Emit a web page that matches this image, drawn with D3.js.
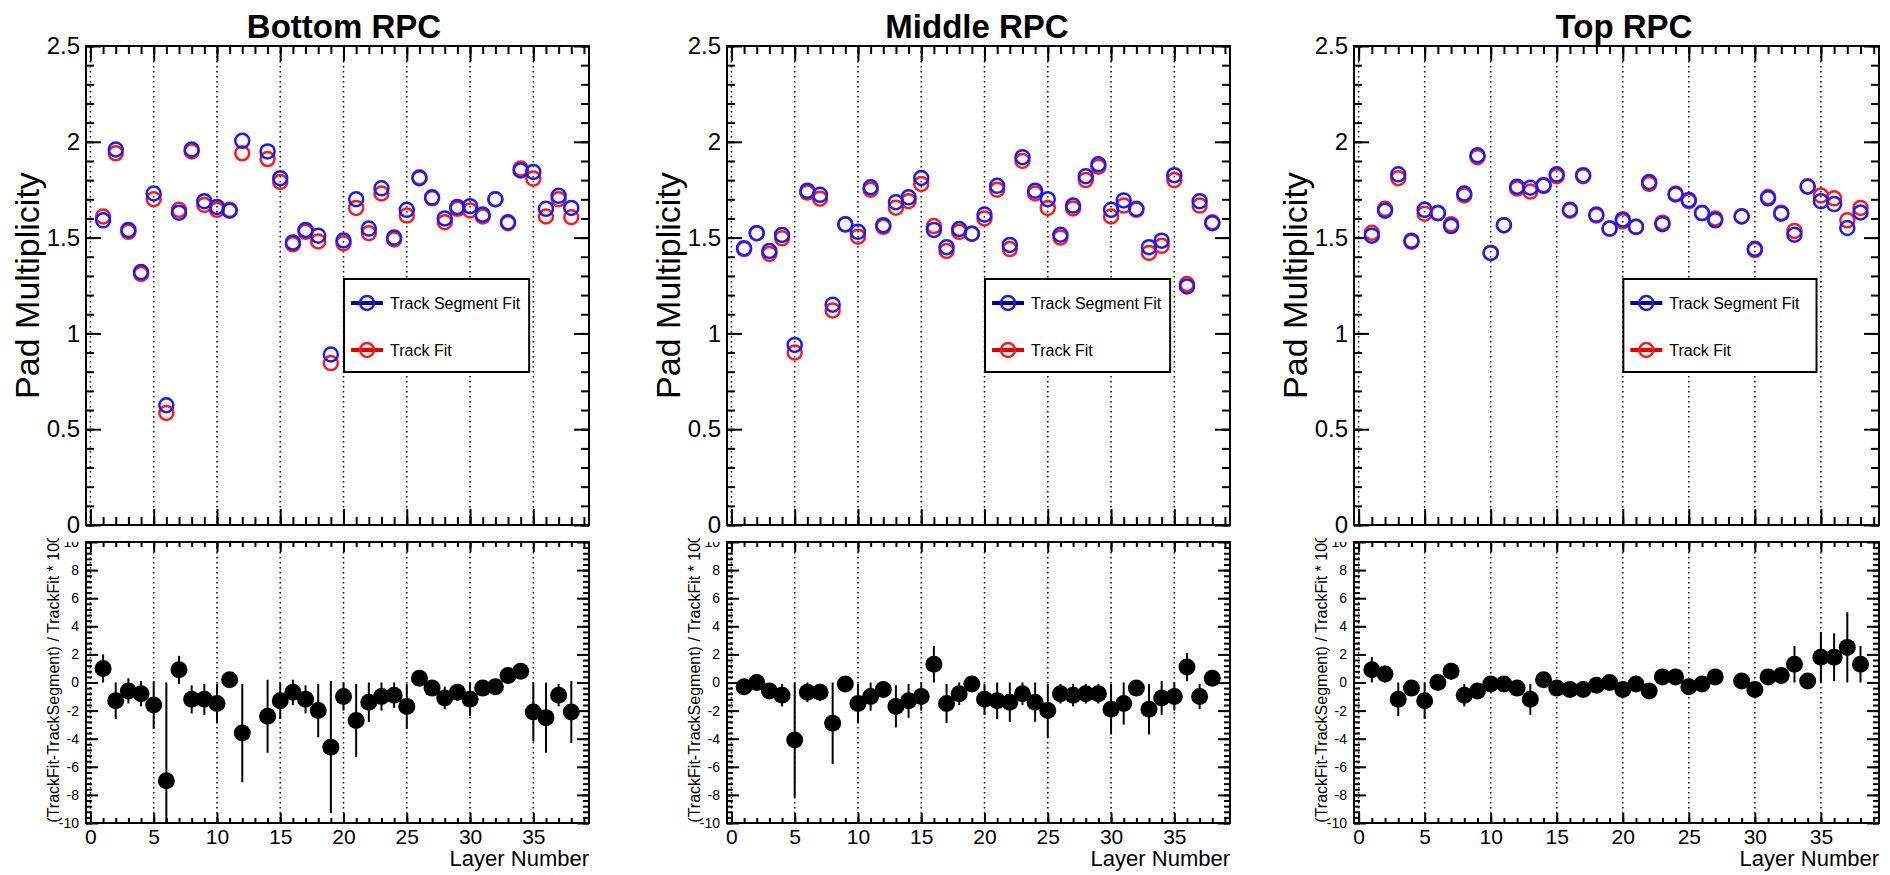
<!doctype html>
<html lang="en">
  <head>
    <meta charset="utf-8">
    <title>RPC Pad Multiplicity</title>
    <style type="text/css">
      body { margin: 0; background-color: #ffffff; }
      svg text { font-family: "Liberation Sans", Arial, Helvetica, sans-serif; fill: #000; }
    </style>
  </head>
  <body>
    <script src="https://d3js.org/d3.v7.min.js"></script>
    <script>

    // layer numbers on the x axis
    var layers = [1, 2, 3, 4, 5, 6, 7, 8, 9, 10, 11, 12, 13, 14, 15, 16, 17, 18, 19,
                  20, 21, 22, 23, 24, 25, 26, 27, 28, 29, 30, 31, 32, 33, 34, 35, 36, 37, 38];

    var xTicks = [0, 5, 10, 15, 20, 25, 30, 35];
    var multTicks = [0, 0.5, 1, 1.5, 2, 2.5];
    var multTickLabels = ["0", "0.5", "1", "1.5", "2", "2.5"];
    var ratioTicks = [-10, -8, -6, -4, -2, 0, 2, 4, 6, 8, 10];
    var ratioTickLabels = ["-10", "-8", "-6", "-4", "-2", "0", "2", "4", "6", "8", "10"];

    var panelTitles = ["Bottom RPC", "Middle RPC", "Top RPC"];
    var legendLabels = ["Track Segment Fit", "Track Fit"];
    var multTitle = "Pad Multiplicity";
    var ratioTitle = "(TrackFit-TrackSegment) / TrackFit * 100";
    var xTitle = "Layer Number";

    // Bottom RPC
    var bottomSegFit = [1.59, 1.96, 1.54, 1.32, 1.73, 0.625, 1.63, 1.96, 1.69, 1.66, 1.64, 2.005, null, 1.95, 1.81, 1.475, 1.54, 1.51, 0.89,
                        1.485, 1.70, 1.547, 1.757, 1.50, 1.645, 1.81, 1.71, 1.60, 1.66, 1.664, 1.62, 1.70, 1.58, 1.85, 1.843, 1.65, 1.718, 1.655];
    var bottomTrackFit = [1.61, 1.94, 1.53, 1.31, 1.70, 0.585, 1.645, 1.95, 1.67, 1.645, 1.645, 1.94, null, 1.91, 1.79, 1.465, 1.53, 1.48, 0.845,
                          1.47, 1.655, 1.523, 1.73, 1.49, 1.615, 1.815, 1.705, 1.58, 1.65, 1.642, 1.61, 1.70, 1.575, 1.86, 1.808, 1.61, 1.70, 1.606];
    var bottomRatio = [1.0, -1.3, -0.6, -0.8, -1.6, -7.0, 0.9, -1.2, -1.2, -1.5, 0.2, -3.6, null, -2.4, -1.3, -0.7, -1.2, -2.0, -4.6,
                       -1.0, -2.7, -1.4, -1.0, -0.9, -1.7, 0.3, -0.4, -1.1, -0.7, -1.2, -0.4, -0.3, 0.5, 0.8, -2.1, -2.5, -0.9, -2.1];
    var bottomRatioErr = [1.0, 1.3, 0.9, 0.9, 1.7, 7.0, 1.0, 1.0, 1.1, 1.4, 0.3, 3.5, null, 2.6, 1.3, 0.9, 1.0, 1.9, 4.7,
                          1.0, 2.6, 1.4, 1.0, 0.9, 1.6, 0.3, 0.5, 0.8, 0.6, 1.2, 0.4, 0.4, 0.4, 0.5, 2.1, 2.5, 0.8, 2.2];

    // Middle RPC
    var middleSegFit = [1.445, 1.523, 1.43, 1.514, 0.94, 1.745, 1.723, 1.15, 1.57, 1.53, 1.763, 1.565, 1.685, 1.71, 1.811, 1.54, 1.45, 1.545, 1.52,
                        1.62, 1.77, 1.462, 1.92, 1.745, 1.70, 1.515, 1.667, 1.82, 1.883, 1.645, 1.694, 1.65, 1.45, 1.484, 1.826, 1.245, 1.69, 1.575];
    var middleTrackFit = [1.44, 1.523, 1.415, 1.496, 0.90, 1.735, 1.703, 1.12, 1.568, 1.505, 1.75, 1.556, 1.656, 1.69, 1.78, 1.56, 1.43, 1.53, 1.52,
                          1.60, 1.75, 1.44, 1.90, 1.73, 1.655, 1.50, 1.652, 1.80, 1.87, 1.61, 1.667, 1.645, 1.42, 1.457, 1.80, 1.258, 1.667, 1.58];
    var middleRatio = [-0.3, 0.0, -0.6, -0.9, -4.1, -0.7, -0.7, -2.9, -0.1, -1.5, -1.0, -0.5, -1.7, -1.3, -1.0, 1.3, -1.5, -0.8, -0.1,
                       -1.2, -1.3, -1.4, -0.8, -1.4, -2.0, -0.8, -0.9, -0.8, -0.8, -1.9, -1.5, -0.4, -1.9, -1.1, -1.0, 1.1, -1.0, 0.3];
    var middleRatioErr = [0.4, 0.3, 0.5, 0.8, 4.1, 0.7, 0.6, 2.9, 0.3, 1.4, 1.0, 0.5, 1.5, 1.2, 1.0, 1.3, 1.4, 0.8, 0.3,
                          1.1, 1.3, 1.4, 0.8, 1.4, 1.9, 0.7, 0.8, 0.7, 0.7, 1.8, 1.5, 0.3, 1.8, 1.2, 1.0, 1.0, 0.9, 0.3];

    // Top RPC
    var topSegFit = [1.51, 1.64, 1.83, 1.484, 1.645, 1.628, 1.56, 1.73, 1.93, 1.42, 1.565, 1.766, 1.76, 1.77, 1.83, 1.646, 1.826, 1.62, 1.547,
                     1.595, 1.556, 1.79, 1.57, 1.725, 1.696, 1.628, 1.59, null, 1.61, 1.442, 1.705, 1.625, 1.515, 1.766, 1.69, 1.675, 1.55, 1.631];
    var topTrackFit = [1.525, 1.65, 1.81, 1.478, 1.625, 1.628, 1.57, 1.72, 1.92, 1.42, 1.565, 1.756, 1.74, 1.775, 1.82, 1.64, 1.82, 1.615, 1.547,
                       1.585, 1.556, 1.78, 1.578, 1.73, 1.69, 1.628, 1.60, null, 1.612, 1.435, 1.712, 1.63, 1.535, 1.768, 1.72, 1.705, 1.59, 1.655];
    var topRatio = [0.9, 0.6, -1.2, -0.4, -1.3, 0.0, 0.8, -0.9, -0.6, -0.1, -0.1, -0.4, -1.2, 0.2, -0.4, -0.5, -0.5, -0.2, 0.0,
                    -0.5, -0.1, -0.6, 0.4, 0.4, -0.3, -0.1, 0.4, null, 0.1, -0.5, 0.4, 0.5, 1.3, 0.1, 1.8, 1.8, 2.5, 1.3];
    var topRatioErr = [0.9, 0.6, 1.2, 0.4, 1.3, 0.3, 0.6, 0.8, 0.5, 0.3, 0.3, 0.4, 1.1, 0.3, 0.3, 0.3, 0.3, 0.3, 0.3,
                       0.3, 0.3, 0.4, 0.3, 0.3, 0.3, 0.3, 0.3, null, 0.3, 0.4, 0.3, 0.4, 1.3, 0.3, 1.8, 1.7, 2.5, 1.3];

    //Width and height
    var w = 1890;
    var h = 875;

    var segColor = "#1a1aff", fitColor = "#ff1a1a";
    var segLine = "#000090", fitLine = "#e00000";

    // frame geometry per pad
    var pads = [
      {pad: 0,    x0: 86,   x1: 589,  tx: 344,  seg: bottomSegFit, fit: bottomTrackFit, r: bottomRatio, e: bottomRatioErr},
      {pad: 630,  x0: 727,  x1: 1230, tx: 977,  seg: middleSegFit, fit: middleTrackFit, r: middleRatio, e: middleRatioErr},
      {pad: 1260, x0: 1354, x1: 1879, tx: 1624, seg: topSegFit,    fit: topTrackFit,    r: topRatio,    e: topRatioErr}
    ];
    var topY0 = 46, topY1 = 525, botY0 = 542, botY1 = 823;

    var svg = d3.select("body")
      .append("svg")
      .attr("width", w)
      .attr("height", h);

    var defs = svg.append("defs");

    function styleAxis(g, size) {
      g.select(".domain").remove();
      g.selectAll(".tick line").attr("stroke", "#000").attr("stroke-width", 2);
      g.selectAll(".tick text").attr("font-size", size || 0).attr("fill", "#000")
        .attr("font-family", "'Liberation Sans', Arial, Helvetica, sans-serif");
    }

    function ticks(g, axisFn, scale, values, len, labels, size, pad) {
      var ax = axisFn(scale).tickValues(values).tickSize(-len).tickPadding(pad || 4);
      if (labels) ax.tickFormat(function(d, i) { return labels[i]; });
      else ax.tickFormat("");
      g.call(ax);
      styleAxis(g, size);
    }

    pads.forEach(function(p, i) {
      var x = d3.scaleLinear().domain([-0.35, 39.4]).range([p.x0, p.x1]);
      var yTop = d3.scaleLinear().domain([0, 2.5]).range([topY1, topY0]);
      var yBot = d3.scaleLinear().domain([-10, 10]).range([botY1, botY0]);

      var minorX = d3.range(0, 40, 1);
      var minorTop = d3.range(0, 2.501, 0.1);
      var minorBot = d3.range(-10, 10.01, 0.4);

      defs.append("clipPath").attr("id", "botpad" + i)
        .append("rect").attr("x", p.pad).attr("y", 538).attr("width", 630).attr("height", h - 538);
      defs.append("clipPath").attr("id", "botlab" + i)
        .append("rect").attr("x", p.pad).attr("y", 542).attr("width", 630).attr("height", h - 542);
      defs.append("clipPath").attr("id", "botframe" + i)
        .append("rect").attr("x", p.x0).attr("y", botY0).attr("width", p.x1 - p.x0).attr("height", botY1 - botY0);

      var g = svg.append("g");

      // dotted grid at major x ticks
      [[topY0, topY1], [botY0, botY1]].forEach(function(r) {
        g.append("g").selectAll("line")
          .data(xTicks)
          .enter()
          .append("line")
          .attr("x1", function(d) { return x(d); })
          .attr("x2", function(d) { return x(d); })
          .attr("y1", r[0])
          .attr("y2", r[1])
          .attr("stroke", "#000")
          .attr("stroke-width", 1.5)
          .attr("stroke-dasharray", "1.5,3.5");
      });

      // ---- upper pad: ticks
      ticks(g.append("g").attr("transform", "translate(0," + topY1 + ")"), d3.axisBottom, x, minorX, 8);
      ticks(g.append("g").attr("transform", "translate(0," + topY1 + ")"), d3.axisBottom, x, xTicks, 16);
      ticks(g.append("g").attr("transform", "translate(0," + topY0 + ")"), d3.axisTop, x, minorX, 8);
      ticks(g.append("g").attr("transform", "translate(0," + topY0 + ")"), d3.axisTop, x, xTicks, 15);
      ticks(g.append("g").attr("transform", "translate(" + p.x0 + ",0)"), d3.axisLeft, yTop, minorTop, 8);
      ticks(g.append("g").attr("transform", "translate(" + p.x0 + ",0)"), d3.axisLeft, yTop, multTicks, 15, multTickLabels, 24, 6);
      ticks(g.append("g").attr("transform", "translate(" + p.x1 + ",0)"), d3.axisRight, yTop, minorTop, 8);
      ticks(g.append("g").attr("transform", "translate(" + p.x1 + ",0)"), d3.axisRight, yTop, multTicks, 15);

      // ---- lower pad: ticks
      ticks(g.append("g").attr("transform", "translate(0," + botY1 + ")"), d3.axisBottom, x, minorX, 5);
      ticks(g.append("g").attr("transform", "translate(0," + botY1 + ")"), d3.axisBottom, x, xTicks, 10, xTicks.map(String), 21, 6);
      ticks(g.append("g").attr("transform", "translate(0," + botY0 + ")"), d3.axisTop, x, minorX, 5);
      ticks(g.append("g").attr("transform", "translate(0," + botY0 + ")"), d3.axisTop, x, xTicks, 10);
      ticks(g.append("g").attr("transform", "translate(" + p.x0 + ",0)"), d3.axisLeft, yBot, minorBot, 6);
      // labels clipped at the pad edge (the top "10" is cut like in the original)
      ticks(g.append("g").attr("clip-path", "url(#botlab" + i + ")")
              .append("g").attr("transform", "translate(" + p.x0 + ",0)"),
            d3.axisLeft, yBot, ratioTicks, 12, ratioTickLabels, 14, 7);
      ticks(g.append("g").attr("transform", "translate(" + p.x1 + ",0)"), d3.axisRight, yBot, minorBot, 6);
      ticks(g.append("g").attr("transform", "translate(" + p.x1 + ",0)"), d3.axisRight, yBot, ratioTicks, 12);

      // frames
      g.append("rect").attr("x", p.x0).attr("y", topY0).attr("width", p.x1 - p.x0).attr("height", topY1 - topY0)
        .attr("fill", "none").attr("stroke", "#000").attr("stroke-width", 2);
      g.append("rect").attr("x", p.x0).attr("y", botY0).attr("width", p.x1 - p.x0).attr("height", botY1 - botY0)
        .attr("fill", "none").attr("stroke", "#000").attr("stroke-width", 2);

      // ---- upper pad: open circles (track fit underneath, segment fit on top)
      [[p.fit, fitColor], [p.seg, segColor]].forEach(function(s) {
        g.append("g").selectAll("circle")
          .data(layers.filter(function(l, k) { return s[0][k] != null; }))
          .enter()
          .append("circle")
          .attr("cx", function(d) { return x(d); })
          .attr("cy", function(d) { return yTop(s[0][d - 1]); })
          .attr("r", 7)
          .attr("fill", "none")
          .attr("stroke", s[1])
          .attr("stroke-width", 2.5);
      });

      // ---- lower pad: ratio with error bars
      var ratioPts = layers.filter(function(l, k) { return p.r[k] != null; });
      var gr = g.append("g").attr("clip-path", "url(#botframe" + i + ")");
      gr.selectAll("line")
        .data(ratioPts)
        .enter()
        .append("line")
        .attr("x1", function(d) { return x(d); })
        .attr("x2", function(d) { return x(d); })
        .attr("y1", function(d) { return yBot(p.r[d - 1] + p.e[d - 1]); })
        .attr("y2", function(d) { return yBot(p.r[d - 1] - p.e[d - 1]); })
        .attr("stroke", "#000")
        .attr("stroke-width", 2);
      gr.selectAll("circle")
        .data(ratioPts)
        .enter()
        .append("circle")
        .attr("cx", function(d) { return x(d); })
        .attr("cy", function(d) { return yBot(p.r[d - 1]); })
        .attr("r", 8.5)
        .attr("fill", "#000");

      // ---- legend
      var W = p.x1 - p.x0;
      var lx0 = p.x0 + 0.513 * W, lx1 = p.x0 + 0.881 * W;
      var leg = g.append("g");
      leg.append("rect").attr("x", lx0).attr("y", 279).attr("width", lx1 - lx0).attr("height", 93)
        .attr("fill", "#fff").attr("stroke", "#000").attr("stroke-width", 2);
      [[303, segLine, segColor], [350, fitLine, fitColor]].forEach(function(row, k) {
        leg.append("line").attr("x1", lx0 + 7).attr("x2", lx0 + 39).attr("y1", row[0]).attr("y2", row[0])
          .attr("stroke", row[1]).attr("stroke-width", 4);
        leg.append("circle").attr("cx", lx0 + 23).attr("cy", row[0]).attr("r", 7)
          .attr("fill", "none").attr("stroke", row[2]).attr("stroke-width", 2.5);
        leg.append("text").attr("x", lx0 + 46).attr("y", row[0] + 6)
          .attr("font-size", 16).text(legendLabels[k]);
      });

      // ---- titles
      g.append("text").attr("x", p.tx).attr("y", 38).attr("text-anchor", "middle")
        .attr("font-size", 33).attr("font-weight", "bold").text(panelTitles[i]);
      g.append("text")
        .attr("transform", "translate(" + (p.x0 - 47) + "," + ((topY0 + topY1) / 2) + ") rotate(-90)")
        .attr("text-anchor", "middle").attr("font-size", 34).text(multTitle);
      g.append("g").attr("clip-path", "url(#botpad" + i + ")")
        .append("text")
        .attr("transform", "translate(" + (p.x0 - 27) + ",534) rotate(-90)")
        .attr("text-anchor", "end").attr("font-size", 16).attr("fill", "#222").text(ratioTitle);
      g.append("text").attr("x", p.x1).attr("y", 866).attr("text-anchor", "end")
        .attr("font-size", 22).text(xTitle);
    });

    </script>
  </body>
</html>
